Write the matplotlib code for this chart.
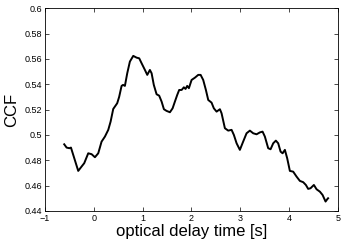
import matplotlib
matplotlib.use("Agg")
import matplotlib.pyplot as plt

delay = [-0.605, -0.556, -0.50, -0.467, -0.42, -0.318, -0.25, -0.195, -0.113, -0.044,
         0.024, 0.092, 0.16, 0.229, 0.297, 0.345, 0.399, 0.48, 0.52, 0.57, 0.60, 0.638,
         0.686, 0.74, 0.809, 0.878, 0.931, 0.98, 1.048, 1.096, 1.15, 1.185, 1.23, 1.287,
         1.34, 1.39, 1.437, 1.49, 1.56, 1.615, 1.662, 1.71, 1.75, 1.80, 1.846, 1.88,
         1.914, 1.949, 2.004, 2.072, 2.14, 2.189, 2.242, 2.297, 2.345, 2.413, 2.46,
         2.516, 2.584, 2.618, 2.686, 2.754, 2.823, 2.87, 2.926, 2.993, 3.06, 3.13,
         3.198, 3.266, 3.335, 3.403, 3.458, 3.505, 3.573, 3.622, 3.676, 3.73, 3.778,
         3.827, 3.868, 3.915, 3.962, 4.017, 4.085, 4.154, 4.222, 4.29, 4.345, 4.392,
         4.44, 4.509, 4.564, 4.632, 4.687, 4.748, 4.782, 4.80]
ccf = [0.4926, 0.490, 0.4895, 0.490, 0.4842, 0.4716, 0.475, 0.4777, 0.4855, 0.4848,
       0.4824, 0.4855, 0.4947, 0.4987, 0.504, 0.5105, 0.5205, 0.525, 0.530, 0.5387,
       0.5395, 0.5387, 0.5487, 0.5579, 0.5624, 0.561, 0.5605, 0.5566, 0.5513, 0.5474,
       0.5513, 0.5487, 0.5395, 0.5321, 0.531, 0.5263, 0.5203, 0.519, 0.5179, 0.521,
       0.5263, 0.5316, 0.5355, 0.5355, 0.5376, 0.5363, 0.5387, 0.5369, 0.5434, 0.5452,
       0.5474, 0.5474, 0.5434, 0.5355, 0.5276, 0.5255, 0.521, 0.5184, 0.5203, 0.5171,
       0.5053, 0.5034, 0.504, 0.500, 0.4934, 0.4882, 0.4947, 0.5013, 0.5034, 0.5013,
       0.5005, 0.502, 0.5026, 0.4987, 0.4895, 0.4887, 0.4934, 0.4955, 0.4934, 0.4868,
       0.4855, 0.4882, 0.4816, 0.4716, 0.471, 0.4671, 0.4637, 0.4627, 0.4605, 0.4574,
       0.4579, 0.4605, 0.4571, 0.4552, 0.4526, 0.4474, 0.4492, 0.450]

xticks = [-1, 0, 1, 2, 3, 4, 5]
yticks = [0.44, 0.46, 0.48, 0.5, 0.52, 0.54, 0.56, 0.58, 0.6]

plt.rcParams['font.family'] = ['Liberation Sans', 'DejaVu Sans']
fig = plt.figure(figsize=(3.43, 2.43), dpi=100)
ax = fig.add_axes([0.131, 0.132, 0.854, 0.834])
ax.plot(delay, ccf, color='black', lw=1.4)
ax.set_xlim(-1, 5)
ax.set_ylim(0.44, 0.6)
ax.set_xticks(xticks)
ax.set_xticklabels([('\u2212' + str(-v)) if v < 0 else str(v) for v in xticks])
ax.set_yticks(yticks)
ax.set_yticklabels(['%g' % v for v in yticks])
ax.tick_params(direction='in', top=True, right=True, length=3, width=0.5,
               labelsize=6.5, pad=2, colors='black')
for s in ax.spines.values():
    s.set_linewidth(0.6)
ax.set_xlabel('optical delay time [s]', fontsize=12, labelpad=1)
ax.set_ylabel('CCF', fontsize=12, labelpad=4)
fig.savefig('out.png', dpi=100)
